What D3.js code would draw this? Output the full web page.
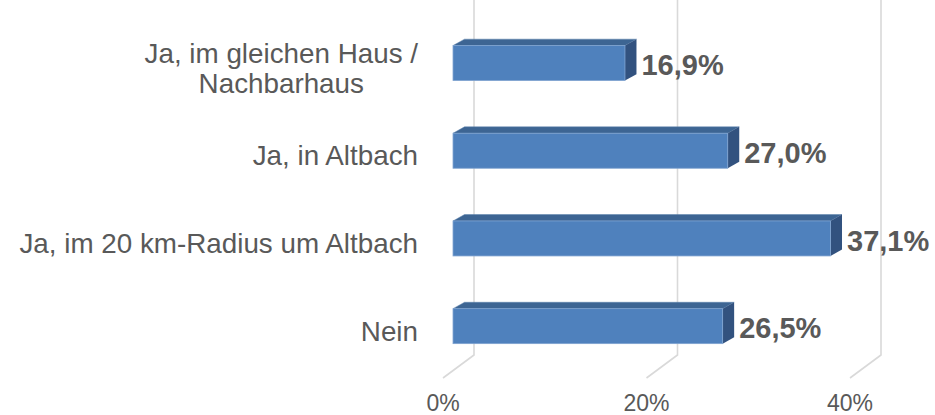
<!DOCTYPE html>
<html><head><meta charset="utf-8">
<script src="https://cdn.jsdelivr.net/npm/d3@7"></script>
<style>html,body{margin:0;padding:0;background:#fff;overflow:hidden}</style>
</head><body>
<svg id="c" width="935" height="415"></svg>
<script>
const categories = [["Ja, im gleichen Haus /","Nachbarhaus"],["Ja, in Altbach"],["Ja, im 20 km-Radius um Altbach"],["Nein"]];
const values = [16.9, 27.0, 37.1, 26.5];
const valueLabels = ["16,9%","27,0%","37,1%","26,5%"];
const ticks = [0, 20, 40];
const tickLabels = ["0%","20%","40%"];

const svg = d3.select("#c");
const font = "'Liberation Sans', Arial, sans-serif";
const DX = 31, DY = 23;           // full depth offset (back -> front)
const wallBottom = 355;
const x = d3.scaleLinear().domain([0, 40]).range([474, 881]); // back wall scale
const y = d3.scalePoint().domain(d3.range(categories.length)).range([19.2, 370]).padding(0.5);
const fFront = 0.677, fBack = 0.306, barH = 35;

// gridlines: back wall verticals + floor diagonals
const g = svg.append("g").attr("stroke", "#d9d9d9").attr("stroke-width", 1.6).attr("fill", "none");
ticks.forEach(t => {
  g.append("path").attr("d", `M${x(t)},0 L${x(t)},${wallBottom} L${x(t)-DX},${wallBottom+DY}`);
});

// tick labels
svg.append("g").selectAll("text").data(ticks).join("text")
  .attr("x", d => x(d) - DX).attr("y", 411)
  .attr("text-anchor", "middle").attr("font-family", font).attr("font-size", 23)
  .attr("fill", "#595959").text((d, i) => tickLabels[i]);

// bars
const bars = svg.append("g");
values.forEach((v, i) => {
  const cy = y(i);
  const top = cy - barH / 2, bot = cy + barH / 2;
  const x0 = x(0) - DX * fFront, x1 = x(v) - DX * fFront;
  const bx = DX * (fFront - fBack), by = -DY * (fFront - fBack) * 0.75;
  bars.append("path").attr("d", `M${x0},${top} L${x0+bx},${top+by} L${x1+bx},${top+by} L${x1},${top} Z`)
    .attr("fill", "#3d6593").attr("stroke", "#5a80ad").attr("stroke-width", 0.5);
  bars.append("path").attr("d", `M${x1},${top} L${x1+bx},${top+by} L${x1+bx},${bot+by} L${x1},${bot} Z`)
    .attr("fill", "#32527f");
  bars.append("rect").attr("x", x0).attr("y", top).attr("width", x1 - x0).attr("height", barH)
    .attr("fill", "#4f81bd").attr("stroke", "#7fa3d0").attr("stroke-width", 0.8);
  svg.append("text").attr("x", x1 + bx + 5).attr("y", cy + 2).attr("dy", "0.35em")
    .attr("font-family", font).attr("font-size", 29).attr("font-weight", "bold")
    .attr("fill", "#595959").text(valueLabels[i]);
});

// category labels
const catSize = 27.8;
categories.forEach((lines, i) => {
  const cy = y(i) + 5;
  const lh = 30;
  const t = svg.append("text").attr("font-family", font).attr("font-size", catSize).attr("fill", "#595959");
  if (lines.length === 1) {
    t.attr("x", 418).attr("y", cy).attr("dy", "0.35em").attr("text-anchor", "end").text(lines[0]);
  } else {
    t.attr("text-anchor", "middle");
    const tmp = svg.append("text").attr("font-family", font).attr("font-size", catSize).text(lines[0]);
    let w = 0;
    lines.forEach(l => { tmp.text(l); w = Math.max(w, tmp.node().getComputedTextLength()); });
    tmp.remove();
    const cx = 418 - w / 2;
    lines.forEach((l, k) => {
      t.append("tspan").attr("x", cx).attr("y", cy + (k - (lines.length - 1) / 2) * lh).attr("dy", "0.35em").text(l);
    });
  }
});
</script>
</body></html>
